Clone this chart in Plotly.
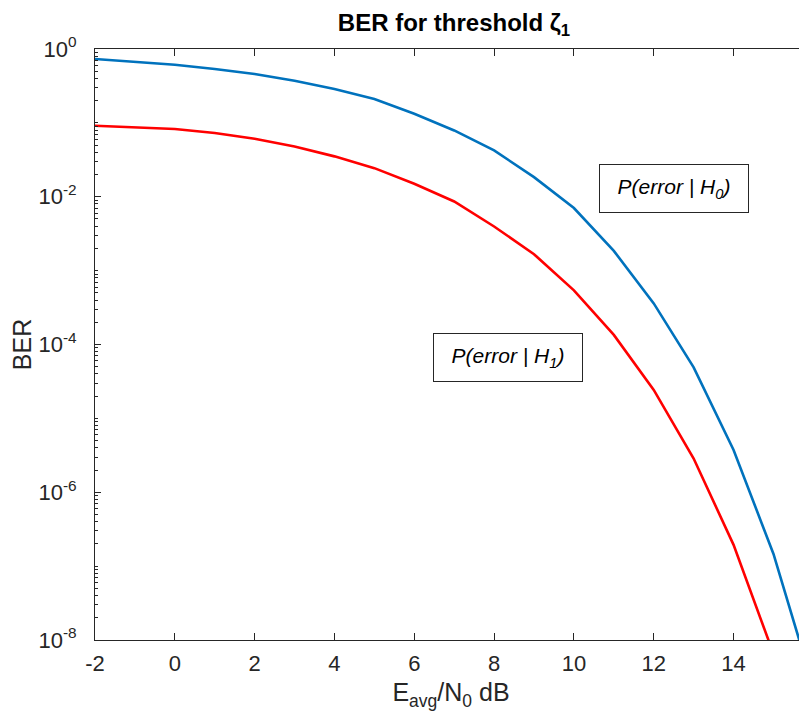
import plotly.graph_objects as go

# Data
snr_db = [-2, -1, 0, 1, 2, 3, 4, 5, 6, 7, 8, 9, 10, 11, 12, 13, 14, 15, 16]
ber_h0 = [0.733, 0.673, 0.612, 0.536, 0.458, 0.372, 0.287, 0.210, 0.133,
          0.079, 0.0424, 0.01845, 0.00703, 0.00185, 3.6e-4, 4.9e-5,
          3.74e-6, 1.46e-7, 2.3e-9]
ber_h1 = [0.0914, 0.0877, 0.0826, 0.0728, 0.0610, 0.0480, 0.0352, 0.0244,
          0.0150, 0.00863, 0.00396, 0.00167, 5.4e-4, 1.35e-4, 2.43e-5,
          2.86e-6, 1.94e-7, 6.5e-9, 1.3e-10]

x_ticks = [-2, 0, 2, 4, 6, 8, 10, 12, 14]
x_ticktext = ["-2", "0", "2", "4", "6", "8", "10", "12", "14"]
y_ticks = [1e0, 1e-2, 1e-4, 1e-6, 1e-8]
y_ticktext = ["10<sup>0</sup>", "10<sup>-2</sup>", "10<sup>-4</sup>",
              "10<sup>-6</sup>", "10<sup>-8</sup>"]
y_minor = [m * 10.0 ** k for k in range(-8, 0) for m in range(1, 10)]

FONT = "Liberation Sans, Arial, Helvetica, sans-serif"
AX = "#262626"

fig = go.Figure()
fig.add_trace(go.Scatter(x=snr_db, y=ber_h0, mode="lines",
                         line=dict(color="#0072BD", width=2.6),
                         name="P(error | H0)", showlegend=False))
fig.add_trace(go.Scatter(x=snr_db, y=ber_h1, mode="lines",
                         line=dict(color="#FF0000", width=2.6),
                         name="P(error | H1)", showlegend=False))

# page body adds an 8px offset, so the figure is 8px smaller on each axis
fig.update_layout(
    width=799, height=715,
    margin=dict(l=87, r=0, t=41, b=83),
    paper_bgcolor="white", plot_bgcolor="white",
    font=dict(family=FONT, color=AX),
    title=dict(text="<b>BER for threshold ζ<sub>1</sub></b>",
               x=(454 - 8) / 799, xref="container", xanchor="center",
               y=1 - 15 / 715, yref="container", yanchor="middle",
               font=dict(size=24, color="black", family=FONT)),
    xaxis=dict(range=[-2, 15.84], tickvals=x_ticks, ticktext=x_ticktext,
               ticks="inside", ticklen=7, tickwidth=1, tickcolor=AX,
               showline=True, linecolor=AX, linewidth=1, mirror="ticks",
               showgrid=False, zeroline=False,
               tickfont=dict(size=22, color=AX), ticklabelstandoff=4,
               title=dict(text="E<sub>avg</sub>/N<sub>0</sub> dB",
                          font=dict(size=25, color=AX), standoff=8),
               automargin=False),
    yaxis=dict(type="log", range=[-8, 0], tickvals=y_ticks, ticktext=y_ticktext,
               ticks="inside", ticklen=6, tickwidth=1, tickcolor=AX,
               showline=True, linecolor=AX, linewidth=1,
               showgrid=False, zeroline=False,
               tickfont=dict(size=22, color=AX), ticklabelstandoff=13,
               minor=dict(tickvals=y_minor, ticks="inside", ticklen=3,
                          tickcolor=AX, showgrid=False),
               title=dict(text="BER", font=dict(size=25, color=AX), standoff=8),
               automargin=False),
)

fig.add_annotation(x=12.51, y=-1.885, xref="x", yref="y",
                   text="<i>P(error | H<sub>0</sub>)</i>", showarrow=False,
                   font=dict(size=21, color="black", family=FONT),
                   width=146, height=45, borderpad=1, borderwidth=1,
                   bordercolor="#262626", bgcolor="white", align="center")
fig.add_annotation(x=8.35, y=-4.18, xref="x", yref="y",
                   text="<i>P(error | H<sub>1</sub>)</i>", showarrow=False,
                   font=dict(size=21, color="black", family=FONT),
                   width=146, height=45, borderpad=1, borderwidth=1,
                   bordercolor="#262626", bgcolor="white", align="center")

fig.write_html("out.html")
